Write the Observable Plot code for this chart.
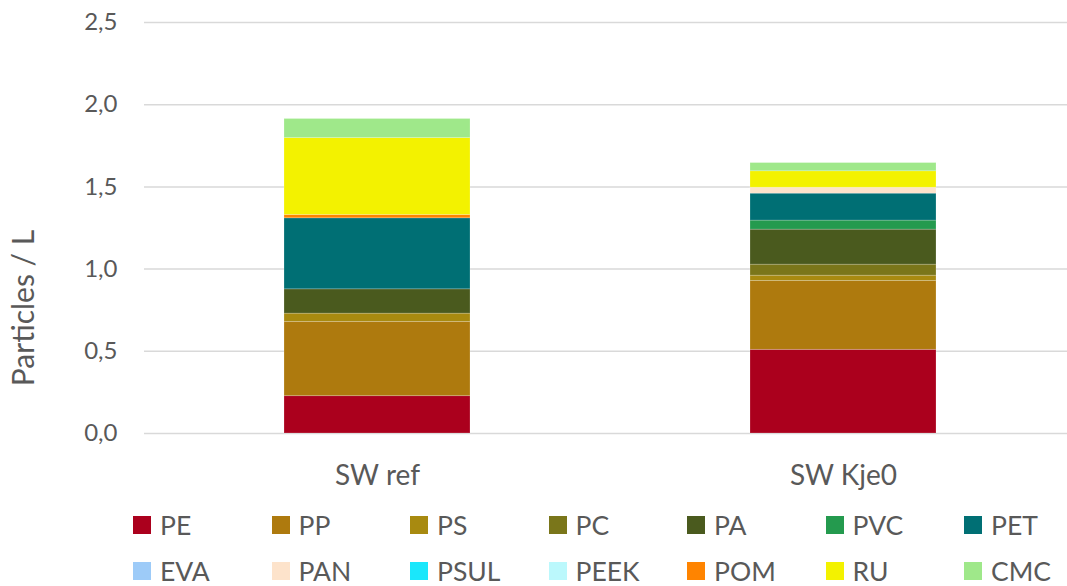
<!DOCTYPE html>
<html>
<head>
<meta charset="utf-8">
<script src="https://cdn.jsdelivr.net/npm/d3@7"></script>
<script src="https://cdn.jsdelivr.net/npm/@observablehq/plot@0.6"></script>
<style>
  html, body { margin: 0; padding: 0; background: #fff; }
  body { width: 1067px; height: 586px; overflow: hidden; font-family: Lato, sans-serif; }
  #legend { position: absolute; left: 133px; top: 502px; width: 980px; display: flex; flex-wrap: wrap; }
  .item { width: 138.5px; height: 46px; display: flex; align-items: center; color: #595959; font-size: 26.5px; }
  .sw { width: 18px; height: 18px; margin-right: 9px; flex: none; }
</style>
</head>
<body>
<div id="chart"></div>
<div id="legend"></div>
<script>
const categories = ["SW ref", "SW Kje0"];
const polymers = ["PE", "PP", "PS", "PC", "PA", "PVC", "PET", "EVA", "PAN", "PSUL", "PEEK", "POM", "RU", "CMC"];
const colors = ["#AB001D", "#AE7A0E", "#A88A10", "#7A761A", "#4A5A1E", "#249A4E", "#006F74", "#9DCBF8", "#FDE3CB", "#1AE7FB", "#BBF8FC", "#FF8400", "#F3F200", "#9FE88A"];
const swRef  = [0.227, 0.452, 0.050, 0.000, 0.148, 0.000, 0.432, 0.000, 0.000, 0.000, 0.000, 0.020, 0.468, 0.116];
const swKje0 = [0.509, 0.419, 0.032, 0.067, 0.213, 0.055, 0.164, 0.000, 0.036, 0.000, 0.000, 0.000, 0.100, 0.050];
const yTicks = [0, 0.5, 1.0, 1.5, 2.0, 2.5];
const yLabel = "Particles / L";

const series = [swRef, swKje0];
const data = [];
categories.forEach((c, i) => polymers.forEach((p, j) => data.push({category: c, polymer: p, value: series[i][j]})));

const fmt = d => d.toFixed(1).replace(".", ",");

const chart = Plot.plot({
  width: 1067,
  height: 500,
  marginTop: 22,
  marginBottom: 67,
  marginLeft: 144,
  marginRight: 0,
  style: { fontFamily: "Lato, sans-serif", color: "#595959", background: "white" },
  x: { domain: categories, range: [144, 1076], paddingInner: 0.601, paddingOuter: 0.3005, label: null },
  y: { domain: [0, 2.5], label: null },
  color: { domain: polymers, range: colors },
  marks: [
    Plot.ruleY(yTicks, { stroke: "#d9d9d9", strokeWidth: 1.5 }),
    Plot.barY(data, Plot.stackY({ x: "category", y: "value", fill: "polymer", order: null, stroke: "white", strokeOpacity: 0.25, strokeWidth: 0.8 })),
    Plot.axisY({ ticks: yTicks, tickFormat: fmt, tickSize: 0, tickPadding: 27, fontSize: 24, label: null }),
    Plot.axisX({ tickSize: 0, tickPadding: 32, fontSize: 28, label: null }),
    Plot.text([yLabel], { frameAnchor: "left", textAnchor: "middle", rotate: -90, dx: -120, dy: 80, fontSize: 30, fill: "#595959" })
  ]
});
document.getElementById("chart").appendChild(chart);

const legend = d3.select("#legend");
polymers.forEach((p, i) => {
  const it = legend.append("div").attr("class", "item");
  it.append("div").attr("class", "sw").style("background", colors[i]);
  it.append("span").text(p);
});
</script>
</body>
</html>
